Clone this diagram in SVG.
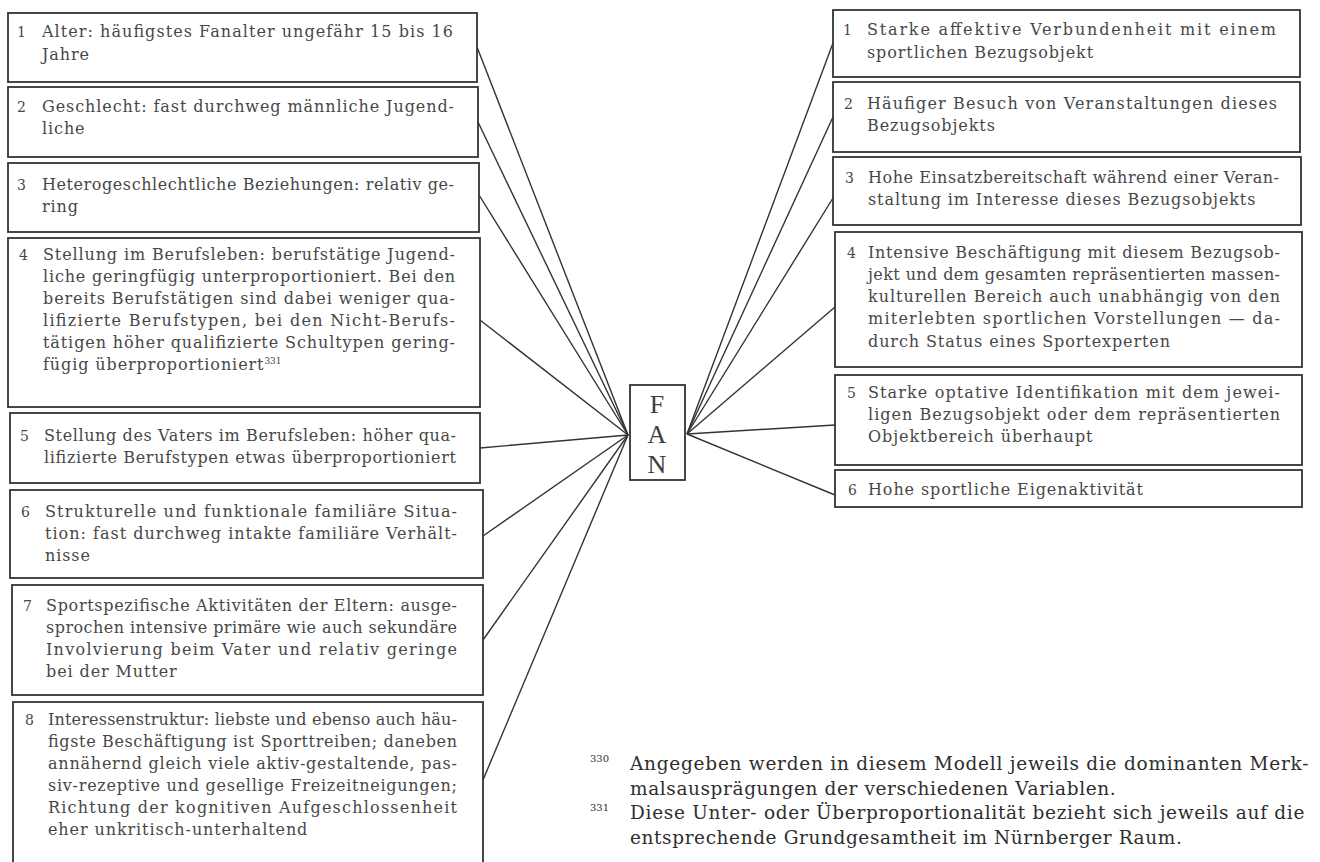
<svg xmlns="http://www.w3.org/2000/svg" width="1320" height="862" viewBox="0 0 1320 862">
<style>
.bg{fill:#ffffff}
.box{fill:#ffffff;stroke:#333333;stroke-width:1.8}
.t{font-family:"DejaVu Serif","Liberation Serif",serif;font-size:16px;fill:#474747;letter-spacing:0.9px}
.j{letter-spacing:0px}
.n{font-family:"DejaVu Serif","Liberation Serif",serif;font-size:14px;fill:#474747}
.sup{font-family:"DejaVu Serif","Liberation Serif",serif;font-size:9px;fill:#474747;letter-spacing:0px}
.fan{font-family:"Liberation Serif","DejaVu Serif",serif;font-size:26px;fill:#404040;text-anchor:middle}
.fn{font-family:"DejaVu Serif","Liberation Serif",serif;font-size:18.5px;fill:#2e2e2e;letter-spacing:0.6px}
.fns{font-family:"DejaVu Serif","Liberation Serif",serif;font-size:10px;fill:#2e2e2e}
.c{stroke:#333333;stroke-width:1.4;fill:none}
</style>
<rect class="bg" x="0" y="0" width="1320" height="862"/>

<g id="connectors">
<line class="c" x1="477" y1="47" x2="628" y2="435"/>
<line class="c" x1="478" y1="122" x2="628" y2="435"/>
<line class="c" x1="479" y1="195" x2="628" y2="435"/>
<line class="c" x1="480" y1="320" x2="628" y2="435"/>
<line class="c" x1="480" y1="448" x2="628" y2="435"/>
<line class="c" x1="483" y1="536" x2="628" y2="435"/>
<line class="c" x1="483" y1="640" x2="628" y2="435"/>
<line class="c" x1="483" y1="780" x2="628" y2="435"/>
<line class="c" x1="687" y1="434" x2="833" y2="43"/>
<line class="c" x1="687" y1="434" x2="833" y2="117"/>
<line class="c" x1="687" y1="434" x2="833" y2="198"/>
<line class="c" x1="687" y1="434" x2="835" y2="307"/>
<line class="c" x1="687" y1="434" x2="835" y2="425"/>
<line class="c" x1="687" y1="434" x2="835" y2="495"/>
</g>

<g id="fan">
<rect class="box" x="630" y="385" width="55" height="95"/>
<text class="fan" x="657" y="413">F</text>
<text class="fan" x="657" y="443">A</text>
<text class="fan" x="657" y="473">N</text>
</g>

<g id="left1">
<rect class="box" x="8" y="13" width="469" height="69"/>
<text class="n" x="17" y="37">1</text>
<text class="t j" x="42" y="37" textLength="411" lengthAdjust="spacing">Alter: häufigstes Fanalter ungefähr 15 bis 16</text>
<text class="t" x="42" y="60">Jahre</text>
</g>

<g id="left2">
<rect class="box" x="8" y="87" width="470" height="70"/>
<text class="n" x="17" y="112">2</text>
<text class="t j" x="42" y="112" textLength="412" lengthAdjust="spacing">Geschlecht: fast durchweg männliche Jugend-</text>
<text class="t" x="42" y="134">liche</text>
</g>

<g id="left3">
<rect class="box" x="8" y="163" width="471" height="69"/>
<text class="n" x="17" y="190">3</text>
<text class="t j" x="42" y="190" textLength="412" lengthAdjust="spacing">Heterogeschlechtliche Beziehungen: relativ ge-</text>
<text class="t" x="42" y="212">ring</text>
</g>

<g id="left4">
<rect class="box" x="8" y="238" width="472" height="169"/>
<text class="n" x="19" y="260">4</text>
<text class="t j" x="43" y="260" textLength="412" lengthAdjust="spacing">Stellung im Berufsleben: berufstätige Jugend-</text>
<text class="t j" x="43" y="282" textLength="412" lengthAdjust="spacing">liche geringfügig unterproportioniert. Bei den</text>
<text class="t j" x="43" y="304" textLength="412" lengthAdjust="spacing">bereits Berufstätigen sind dabei weniger qua-</text>
<text class="t j" x="43" y="326" textLength="412" lengthAdjust="spacing">lifizierte Berufstypen, bei den Nicht-Berufs-</text>
<text class="t j" x="43" y="348" textLength="412" lengthAdjust="spacing">tätigen höher qualifizierte Schultypen gering-</text>
<text class="t" x="43" y="370">fügig überproportioniert<tspan class="sup" dy="-6">331</tspan></text>
</g>

<g id="left5">
<rect class="box" x="10" y="413" width="470" height="70"/>
<text class="n" x="20" y="441">5</text>
<text class="t j" x="44" y="441" textLength="412" lengthAdjust="spacing">Stellung des Vaters im Berufsleben: höher qua-</text>
<text class="t j" x="44" y="463" textLength="412" lengthAdjust="spacing">lifizierte Berufstypen etwas überproportioniert</text>
</g>

<g id="left6">
<rect class="box" x="10" y="490" width="473" height="88"/>
<text class="n" x="21" y="517">6</text>
<text class="t j" x="45" y="517" textLength="412" lengthAdjust="spacing">Strukturelle und funktionale familiäre Situa-</text>
<text class="t j" x="45" y="539" textLength="412" lengthAdjust="spacing">tion: fast durchweg intakte familiäre Verhält-</text>
<text class="t" x="45" y="561">nisse</text>
</g>

<g id="left7">
<rect class="box" x="12" y="585" width="471" height="110"/>
<text class="n" x="23" y="611">7</text>
<text class="t j" x="46" y="611" textLength="411" lengthAdjust="spacing">Sportspezifische Aktivitäten der Eltern: ausge-</text>
<text class="t j" x="46" y="633" textLength="411" lengthAdjust="spacing">sprochen intensive primäre wie auch sekundäre</text>
<text class="t j" x="46" y="655" textLength="411" lengthAdjust="spacing">Involvierung beim Vater und relativ geringe</text>
<text class="t" x="46" y="677">bei der Mutter</text>
</g>

<g id="left8">
<rect class="box" x="13" y="702" width="470" height="175"/>
<text class="n" x="25" y="725">8</text>
<text class="t j" x="48" y="725" textLength="409" lengthAdjust="spacing">Interessenstruktur: liebste und ebenso auch häu-</text>
<text class="t j" x="48" y="747" textLength="409" lengthAdjust="spacing">figste Beschäftigung ist Sporttreiben; daneben</text>
<text class="t j" x="48" y="769" textLength="409" lengthAdjust="spacing">annähernd gleich viele aktiv-gestaltende, pas-</text>
<text class="t j" x="48" y="791" textLength="409" lengthAdjust="spacing">siv-rezeptive und gesellige Freizeitneigungen;</text>
<text class="t j" x="48" y="813" textLength="409" lengthAdjust="spacing">Richtung der kognitiven Aufgeschlossenheit</text>
<text class="t" x="48" y="835">eher unkritisch-unterhaltend</text>
</g>

<g id="right1">
<rect class="box" x="833" y="10" width="467" height="67"/>
<text class="n" x="843" y="35">1</text>
<text class="t j" x="867" y="35" textLength="409" lengthAdjust="spacing">Starke affektive Verbundenheit mit einem</text>
<text class="t" x="867" y="58">sportlichen Bezugsobjekt</text>
</g>

<g id="right2">
<rect class="box" x="833" y="82" width="467" height="70"/>
<text class="n" x="844" y="109">2</text>
<text class="t j" x="867" y="109" textLength="410" lengthAdjust="spacing">Häufiger Besuch von Veranstaltungen dieses</text>
<text class="t" x="867" y="131">Bezugsobjekts</text>
</g>

<g id="right3">
<rect class="box" x="833" y="157" width="468" height="68"/>
<text class="n" x="845" y="183">3</text>
<text class="t j" x="868" y="183" textLength="411" lengthAdjust="spacing">Hohe Einsatzbereitschaft während einer Veran-</text>
<text class="t" x="868" y="205">staltung im Interesse dieses Bezugsobjekts</text>
</g>

<g id="right4">
<rect class="box" x="835" y="232" width="467" height="135"/>
<text class="n" x="847" y="258">4</text>
<text class="t j" x="868" y="258" textLength="412" lengthAdjust="spacing">Intensive Beschäftigung mit diesem Bezugsob-</text>
<text class="t j" x="868" y="280" textLength="412" lengthAdjust="spacing">jekt und dem gesamten repräsentierten massen-</text>
<text class="t j" x="868" y="302" textLength="412" lengthAdjust="spacing">kulturellen Bereich auch unabhängig von den</text>
<text class="t j" x="868" y="324" textLength="412" lengthAdjust="spacing">miterlebten sportlichen Vorstellungen — da-</text>
<text class="t" x="868" y="347">durch Status eines Sportexperten</text>
</g>

<g id="right5">
<rect class="box" x="835" y="375" width="467" height="90"/>
<text class="n" x="847" y="398">5</text>
<text class="t j" x="868" y="398" textLength="412" lengthAdjust="spacing">Starke optative Identifikation mit dem jewei-</text>
<text class="t j" x="868" y="420" textLength="412" lengthAdjust="spacing">ligen Bezugsobjekt oder dem repräsentierten</text>
<text class="t" x="868" y="442">Objektbereich überhaupt</text>
</g>

<g id="right6">
<rect class="box" x="835" y="470" width="467" height="37"/>
<text class="n" x="848" y="495">6</text>
<text class="t" x="868" y="495">Hohe sportliche Eigenaktivität</text>
</g>

<g id="footnotes">
<text class="fns" x="590" y="762">330</text>
<text class="fn" x="630" y="770" textLength="679" lengthAdjust="spacing">Angegeben werden in diesem Modell jeweils die dominanten Merk-</text>
<text class="fn" x="630" y="795">malsausprägungen der verschiedenen Variablen.</text>
<text class="fns" x="590" y="811">331</text>
<text class="fn" x="630" y="819" textLength="675" lengthAdjust="spacing">Diese Unter- oder Überproportionalität bezieht sich jeweils auf die</text>
<text class="fn" x="630" y="844">entsprechende Grundgesamtheit im Nürnberger Raum.</text>
</g>
</svg>
